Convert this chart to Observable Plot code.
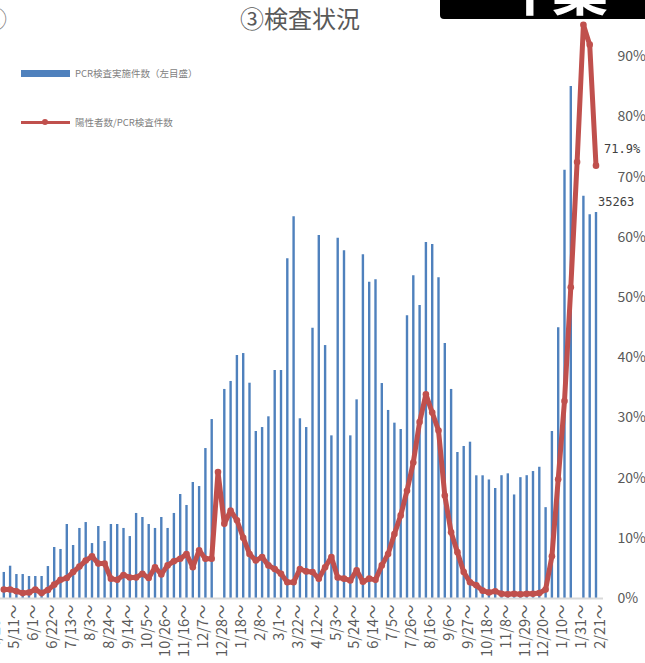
<!DOCTYPE html>
<html>
<head>
<meta charset="utf-8">
<script src="https://cdn.jsdelivr.net/npm/d3@7"></script>
<script src="https://cdn.jsdelivr.net/npm/@observablehq/plot@0.6"></script>
<style>
  html, body { margin: 0; padding: 0; background: #fff; }
  #wrap { position: relative; width: 645px; height: 663px; overflow: hidden; font-family: "Noto Sans CJK JP", "Noto Sans", sans-serif; }
  #wrap svg { position: absolute; left: 0; top: 0; overflow: visible; }
  .title { position: absolute; left: 0; width: 600px; top: 2px; text-align: center; font-size: 24px; color: #595959; line-height: 32px; }
  .corner { position: absolute; left: -17px; top: 2px; font-size: 24px; color: #7f7f7f; line-height: 32px; }
  .banner { position: absolute; left: 440px; top: 0; width: 205px; height: 19px; background: #000; border-bottom-left-radius: 4px; overflow: hidden; }
  .banner span { position: absolute; left: 62px; top: -44px; font-size: 56px; line-height: 60px; color: #fff; font-weight: 700; letter-spacing: -6px; }
  .leg { position: absolute; left: 21px; font-size: 9.5px; color: #7f7f7f; display: flex; align-items: center; }
  .leg .sw { width: 49px; margin-right: 5px; position: relative; }
</style>
</head>
<body>
<div id="wrap">
  <div class="title">③検査状況</div>
  <div class="corner">②</div>
  <div class="banner"><span>千葉</span></div>
  <div class="leg" style="top:66px;"><div class="sw" style="height:7px;background:#4f81bd;"></div><span>PCR検査実施件数（左目盛）</span></div>
  <div class="leg" style="top:115px;"><div class="sw" style="height:14px;"><div style="position:absolute;left:0;right:0;top:5.5px;height:3px;background:#c0504d;"></div><div style="position:absolute;left:21px;top:4px;width:6px;height:6px;border-radius:3px;background:#c0504d;"></div></div><span>陽性者数/PCR検査件数</span></div>
</div>
<script>
// PCR tests per week (count, left axis; 100% on the right axis = 55000 on the left)
// null = no bar visible in the reference for that week
const tests = [
  2380, 2950, 2190, 2190, 2010, 2010, 2010, 2920, 4660, 4480,
  6760, 4840, 6400, 6940, 5020, 6580, 5210, 6760, 6760, 6400,
  5660, 7770, 7400, 6760, 6400, 7400, 6400, 7770, 9500, 8500,
  10600, 10230, 13700, 16350, null, 19100, 19830, 22200, 22380, 19670,
  15260, 15620, 16600, 20830, 20830, 31040, 34870, 16420, 15620, 24700,
  33160, 23110, 14860, 32920, 31770, 14860, 18150, 31400, 28900, 29120,
  19640, 17180, 16020, 15440, 25830, 29480, 26770, 32520, 32340, 29300,
  23300, 19100, 13340, 13890, 14280, 11210, 11210, 10830, 10050, 11220,
  11390, 9460, 11040, 11220, 11600, 11990, 8300, 15260, 24740, 39120,
  46780, null, 36760, 35070, 35263
];
// positive / tests (%)
const rate = [
  1.5, 1.5, 1.2, 0.9, 1.0, 1.5, 0.9, 1.4, 2.3, 3.1,
  3.4, 4.4, 5.3, 6.3, 7.0, 5.8, 5.8, 3.3, 3.1, 3.9,
  3.5, 3.5, 4.1, 3.4, 5.2, 4.0, 5.5, 6.2, 6.6, 7.4,
  5.2, 8.0, 6.6, 6.6, 21.0, 12.4, 14.6, 13.0, 10.1, 7.4,
  6.3, 6.9, 5.5, 4.9, 4.1, 2.7, 2.7, 4.9, 4.5, 4.4,
  3.3, 5.2, 6.9, 3.5, 3.3, 3.0, 4.7, 2.8, 3.3, 3.1,
  5.5, 7.4, 10.7, 13.8, 17.9, 22.6, 29.3, 33.9, 30.9, 27.9,
  17.1, 11.0, 7.7, 4.4, 2.7, 2.2, 1.3, 1.0, 1.2, 0.8,
  0.7, 0.8, 0.7, 0.8, 0.8, 0.9, 1.5, 7.0, 19.8, 32.8,
  51.7, 72.5, 95.3, 92.0, 71.9
];
// x tick labels (every third week) and the week index they mark
const tickLabels = ["4/20〜", "5/11〜", "6/1〜", "6/22〜", "7/13〜", "8/3〜", "8/24〜", "9/14〜", "10/5〜", "10/26〜",
  "11/16〜", "12/7〜", "12/28〜", "1/18〜", "2/8〜", "3/1〜", "3/22〜", "4/12〜", "5/3〜", "5/24〜",
  "6/14〜", "7/5〜", "7/26〜", "8/16〜", "9/6〜", "9/27〜", "10/18〜", "11/8〜", "11/29〜", "12/20〜",
  "1/10〜", "1/31〜", "2/21〜"];
const tickWeeks = tickLabels.map((_, k) => -2 + 3 * k);
const yTicks = [0, 10, 20, 30, 40, 50, 60, 70, 80, 90, 100];
const leftMax = 55000; // left-axis value at 100% on the right axis

const data = tests.map((t, i) => ({i, tests: t, rate: rate[i]}));
const bars = data.filter(d => d.tests != null);
const last = data[data.length - 1];
const labelOf = new Map(tickWeeks.map((w, k) => [w, tickLabels[k]]));

const chart = Plot.plot({
  width: 645,
  height: 663,
  marginLeft: 0,
  marginRight: 42,
  marginTop: 0,
  marginBottom: 65,
  style: {fontFamily: "'Noto Sans CJK JP', sans-serif", color: "#595959", background: "transparent"},
  x: {type: "linear", domain: [-0.524, 95.19], axis: null, label: null},
  y: {domain: [0, 100], range: [598, -4], axis: null, label: null},
  marks: [
    Plot.ruleX(bars, {x: "i", y1: 0, y2: d => d.tests / leftMax * 100, stroke: "#4f81bd", strokeWidth: 2.4}),
    Plot.ruleY([0], {stroke: "#d9d9d9", strokeWidth: 2}),
    Plot.line(data, {x: "i", y: "rate", stroke: "#c0504d", strokeWidth: 5}),
    Plot.dot(data, {x: "i", y: "rate", r: 3.3, fill: "#c0504d"}),
    Plot.axisX(tickWeeks, {anchor: "bottom", label: null, tickSize: 0, tickPadding: 6, tickRotate: -90, fontSize: 14.5, dx: 4.5,
      tickFormat: d => labelOf.get(d)}),
    Plot.axisY(yTicks, {anchor: "right", label: null, tickSize: 0, tickPadding: 14, fontSize: 14, tickFormat: d => d + "%"}),
    Plot.text([last], {x: "i", y: "rate", text: d => d.rate.toFixed(1) + "%", dx: 8, dy: -17, textAnchor: "start",
      fontSize: 12, fill: "#404040", fontFamily: "'DejaVu Sans Mono', monospace"}),
    Plot.text([last], {x: "i", y: d => d.tests / leftMax * 100, text: d => String(d.tests), dx: 2, dy: -10, textAnchor: "start",
      fontSize: 12, fill: "#404040", fontFamily: "'DejaVu Sans Mono', monospace"})
  ]
});
document.getElementById("wrap").prepend(chart);
</script>
</body>
</html>
